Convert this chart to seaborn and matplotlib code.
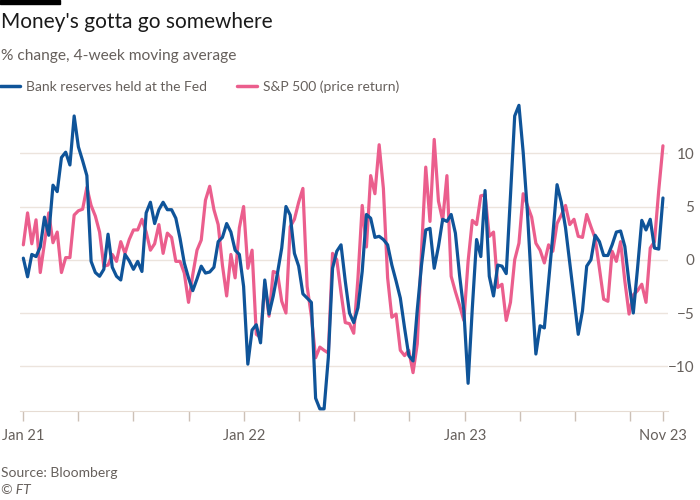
import pandas as pd
import matplotlib.pyplot as plt
import matplotlib.dates as mdates
import seaborn as sns

# weekly values, % change 4-week moving average
fed_reserves = [
    0.15, -1.6, 0.5, 0.3, 1.2, 4.0, 2.3, 7.0, 6.4, 9.6,
    10.1, 8.9, 13.5, 10.6, 9.3, 7.9, -0.15, -1.2, -1.55, -0.9,
    2.4, -0.7, -1.55, -1.9, 0.5, -0.1, -0.9, -0.15, -1.1, 4.4,
    5.4, 3.4, 4.7, 5.4, 4.7, 4.7, 3.9, 2.0, -0.3, -1.7,
    -2.9, -1.8, -0.6, -1.25, -1.15, -0.7, 1.7, 2.1, 3.4, 2.6,
    0.9, 0.5, -2.5, -9.8, -6.6, -6.1, -7.8, -1.9, -5.1, -3.4,
    -1.25, 1.1, 5.0, 4.2, 0.6, -0.6, -3.2, -3.6, -4.0, -13.0,
    -14.0, -14.0, -9.2, -0.8, 0.8, 1.4, -2.0, -5.0, -5.9, -4.5,
    -1.1, 4.25, 3.9, 2.1, 2.2, 1.9, 1.4, -0.5, -2.0, -3.6,
    -6.4, -9.0, -9.5, -4.7, -0.5, 2.8, 2.95, -0.8, 1.25, 3.8,
    3.6, 4.25, 2.5, -1.5, -4.8, -11.6, -4.5, 1.9, 0.3, 6.5,
    -1.55, -3.4, -0.5, -0.6, -1.3, 6.0, 13.5, 14.5, 10.1, 4.5,
    -2.6, -8.85, -6.2, -6.4, -2.0, 2.3, 7.05, 5.4, 3.0, -0.3,
    -3.6, -7.0, -4.8, -0.6, 0.0, 2.3, 1.7, 0.4, 0.4, 1.4,
    2.6, 2.7, 1.25, -2.2, -5.0, -0.8, 3.7, 2.8, 3.8, 1.1,
    1.0, 5.8,
]
sp500 = [
    1.4, 4.4, 1.5, 3.75, -1.2, 1.6, 4.4, 1.6, 2.6, -1.2,
    0.2, 0.2, 4.2, 4.6, 4.75, 6.8, 5.1, 4.1, 2.6, -0.6,
    -0.5, 0.5, -0.15, 1.7, 0.6, 1.9, 2.8, 2.8, 3.8, 2.6,
    0.9, 1.5, 3.3, 0.6, 2.5, 2.1, -0.15, -0.15, -1.25, -4.0,
    -1.4, 0.9, 1.85, 5.6, 6.9, 4.7, 3.3, -0.5, -3.4, 0.5,
    -1.7, 3.0, 5.0, -0.8, 0.9, -7.0, -7.3, -2.2, -5.3, -1.1,
    -1.25, -3.9, -5.0, 3.1, 3.8, 5.4, 6.7, -2.5, -5.3, -9.2,
    -8.2, -8.5, -8.75, 0.6, 0.0, -3.1, -5.9, -6.0, -6.9, -1.7,
    5.1, 1.2, 7.9, 6.2, 10.8, 6.7, -1.7, -5.4, -5.1, -8.5,
    -9.0, -8.5, -10.6, -7.9, 0.8, 8.7, 3.6, 11.3, 5.5, 3.7,
    7.9, -1.55, -3.0, -4.3, -5.7, -0.15, 3.7, 3.3, 6.0, 6.1,
    2.2, 2.6, -2.6, -2.3, -5.7, -4.0, 0.0, 1.55, 6.2, 5.1,
    4.0, 1.55, 0.9, -0.3, 1.4, 0.8, 3.4, 4.2, 5.1, 3.3,
    3.8, 2.2, 2.1, 4.25, 3.1, 2.0, -0.8, -3.7, -3.9, 0.8,
    -0.15, 1.7, -2.0, -5.1, -3.3, -2.9, -2.3, -4.0, 1.1, 1.7,
    6.5, 10.7,
]
dates = pd.date_range("2021-01-01", periods=len(fed_reserves), freq="7D")

series_names = ["Bank reserves held at the Fed", "S&P 500 (price return)"]
colors = ["#0f5499", "#eb5e8d"]
y_ticks = [-10, -5, 0, 5, 10]

df = pd.concat([
    pd.DataFrame({"date": dates, "value": fed_reserves, "series": series_names[0]}),
    pd.DataFrame({"date": dates, "value": sp500, "series": series_names[1]}),
])

sns.set_style("white")
plt.rcParams["font.family"] = ["Lato", "DejaVu Sans"]
grey = "#66605c"

fig = plt.figure(figsize=(7, 5), dpi=100)
ax = fig.add_axes([0.029, 0.178, 0.925, 0.622])

# pink first so the blue line sits on top, as in the original
sns.lineplot(data=df, x="date", y="value", hue="series",
             hue_order=series_names[::-1], palette=colors[::-1],
             linewidth=2.3, ax=ax, legend=False)

ax.set_ylim(-14.2, 15)
ax.set_xlim(dates[0] - pd.Timedelta(days=5), dates[-1] + pd.Timedelta(days=8))
ax.set_yticks(y_ticks)
ax.yaxis.tick_right()
ax.tick_params(axis="y", length=0, labelsize=11, labelcolor=grey, pad=19)
for lab in ax.get_yticklabels():
    lab.set_horizontalalignment("right")
ax.grid(axis="y", color="#ece4dd", linewidth=1)
ax.grid(axis="x", visible=False)

# quarterly minor ticks, labelled ticks at Jan 21, Jan 22, Jan 23, Nov 23
ax.xaxis.set_minor_locator(mdates.MonthLocator(bymonth=[1, 4, 7, 10]))
major = [pd.Timestamp("2021-01-01"), pd.Timestamp("2022-01-01"),
         pd.Timestamp("2023-01-01"), dates[-1]]
ax.set_xticks(major)
ax.set_xticklabels(["Jan 21", "Jan 22", "Jan 23", "Nov 23"])
ax.tick_params(axis="x", which="both", length=7, width=1, color="#ccc1b7",
               labelsize=10.5, labelcolor=grey, pad=6, bottom=True)

for side in ["top", "left", "right"]:
    ax.spines[side].set_visible(False)
ax.spines["bottom"].set_color("#e6dcd3")
ax.set_xlabel("")
ax.set_ylabel("")

# legend
handles = [plt.Line2D([], [], color=c, linewidth=2.5) for c in colors]
fig.legend(handles, series_names, loc="center left", bbox_to_anchor=(0, 0.826),
           ncol=2, frameon=False, fontsize=10, labelcolor=grey,
           borderpad=0, borderaxespad=0,
           handlelength=1.45, handletextpad=0.45, columnspacing=2.1)

fig.add_artist(plt.Rectangle((0, 0.992), 0.086, 0.008, color="black",
                             transform=fig.transFigure))
fig.text(0.002, 0.955, "Money's gotta go somewhere", fontsize=15,
         color="#1a1a1a", va="center", ha="left")
fig.text(0.002, 0.888, "% change, 4-week moving average", fontsize=11.2,
         color=grey, va="center", ha="left")
fig.text(0.002, 0.054, "Source: Bloomberg", fontsize=10, color=grey,
         va="center", ha="left")
fig.text(0.002, 0.02, "© FT", fontsize=10, color=grey, style="italic",
         va="center", ha="left")

fig.savefig("out.png", dpi=100, facecolor="white")
